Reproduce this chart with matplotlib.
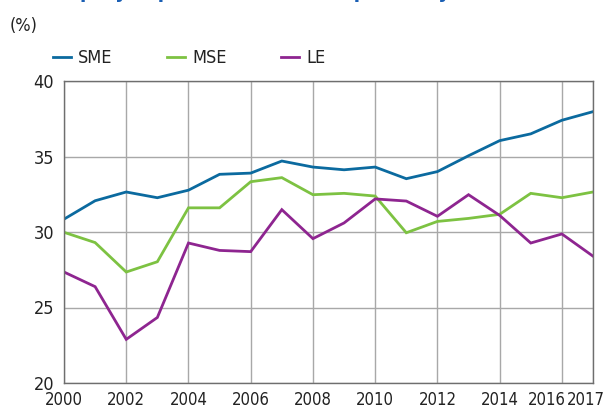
import matplotlib
matplotlib.use("Agg")
import matplotlib.pyplot as plt
import matplotlib.transforms as mtrans

years = list(range(2000, 2018))
sme = [30.85, 32.07, 32.65, 32.27, 32.77, 33.82, 33.9, 34.7, 34.3, 34.12, 34.3, 33.53, 34.0, 35.05, 36.05, 36.5, 37.4, 37.97]
mse = [29.98, 29.3, 27.35, 28.03, 31.6, 31.6, 33.33, 33.6, 32.47, 32.56, 32.38, 29.95, 30.7, 30.9, 31.17, 32.56, 32.27, 32.65]
le = [27.35, 26.38, 22.89, 24.34, 29.27, 28.78, 28.7, 31.48, 29.56, 30.6, 32.19, 32.05, 31.04, 32.47, 31.1, 29.27, 29.87, 28.4]
xticks = [2000, 2002, 2004, 2006, 2008, 2010, 2012, 2014, 2016, 2017]
yticks = [20, 25, 30, 35, 40]

plt.rcParams['font.family'] = ['DejaVu Sans']
plt.rcParams['font.stretch'] = 'condensed'

fig = plt.figure(figsize=(6.06, 4.09), dpi=100)
ax = fig.add_axes([64/606, 1-383/409, (593-64)/606, (383-81)/409])

c_sme = '#0b6a9f'
c_mse = '#7dc242'
c_le = '#8e2590'
ax.plot(years, sme, color=c_sme, lw=2.0, label='SME', solid_joinstyle='miter')
ax.plot(years, mse, color=c_mse, lw=2.0, label='MSE', solid_joinstyle='miter')
ax.plot(years, le, color=c_le, lw=2.0, label='LE', solid_joinstyle='miter')

ax.set_xlim(2000, 2017)
ax.set_ylim(20, 40)
ax.set_xticks(xticks)
ax.set_yticks(yticks)
ax.tick_params(length=0, colors='#222222')
ax.tick_params(axis='x', labelsize=12, pad=6)
ax.tick_params(axis='y', labelsize=13, pad=7)
ax.grid(True, color='#a8a8a8', lw=1.0)
ax.set_axisbelow(True)
for s in ax.spines.values():
    s.set_color('#6e6e6e')
    s.set_linewidth(1.0)

labels = ax.get_xticklabels()
labels[-2].set_horizontalalignment('right')
labels[-2].set_transform(labels[-2].get_transform() + mtrans.ScaledTranslation(4/100, 0, fig.dpi_scale_trans))
labels[-1].set_horizontalalignment('right')
labels[-1].set_transform(labels[-1].get_transform() + mtrans.ScaledTranslation(12/100, 0, fig.dpi_scale_trans))

fig.text(10/606, 1-26/409, '(%)', fontsize=13, color='#222222', va='center', ha='left')
fig.text(60/606, 1+1.5/409, 'Equity capital ratio of enterprises by firm size', fontsize=15,
         fontweight='bold', color='#1a5fb4', va='baseline', ha='left')

leg = fig.legend(loc='center left', bbox_to_anchor=(53/606, 1-58/409), ncol=3,
                 frameon=False, fontsize=13, handlelength=1.0, handletextpad=0.4,
                 columnspacing=3.0, borderaxespad=0, borderpad=0)
for t in leg.get_texts():
    t.set_color('#222222')

fig.savefig('out.png', dpi=100)
